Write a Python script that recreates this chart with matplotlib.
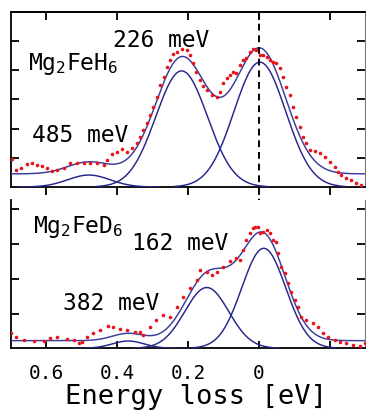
import numpy as np
import matplotlib
matplotlib.use('Agg')
import matplotlib.pyplot as plt
from matplotlib.transforms import blended_transform_factory

# ---------------- data ----------------
# Mg2FeH6 measured spectrum
h_energy = [0.697, 0.687, 0.673, 0.654, 0.640, 0.626, 0.612, 0.598, 0.584, 0.570,
            0.551, 0.532, 0.514, 0.495, 0.476, 0.457, 0.438, 0.429, 0.415, 0.401,
            0.387, 0.373, 0.359, 0.345, 0.335, 0.326, 0.316, 0.307, 0.298, 0.288,
            0.279, 0.269, 0.260, 0.251, 0.241, 0.232, 0.218, 0.204, 0.194, 0.185,
            0.176, 0.166, 0.157, 0.147, 0.133, 0.119, 0.110, 0.100, 0.091, 0.082,
            0.072, 0.063, 0.054, 0.044, 0.035, 0.025, 0.016, 0.007, -0.003, -0.012,
            -0.022, -0.031, -0.040, -0.050, -0.059, -0.069, -0.078, -0.087, -0.097, -0.106,
            -0.115, -0.125, -0.134, -0.144, -0.158, -0.172, -0.186, -0.200, -0.214, -0.223,
            -0.233, -0.247, -0.261, -0.275, -0.289]
h_intensity = [0.95, 0.58, 0.64, 0.79, 0.83, 0.75, 0.72, 0.64, 0.56, 0.58,
               0.64, 0.81, 0.83, 0.81, 0.83, 0.81, 0.75, 0.93, 1.13, 1.21,
               1.29, 1.21, 1.33, 1.50, 1.70, 1.95, 2.18, 2.47, 2.75, 3.10,
               3.50, 3.78, 4.13, 4.35, 4.56, 4.64, 4.72, 4.70, 4.53, 4.24,
               3.95, 3.67, 3.46, 3.33, 3.15, 3.10, 3.27, 3.55, 3.73, 3.84,
               3.95, 3.90, 4.18, 4.35, 4.41, 4.64, 4.72, 4.70, 4.53, 4.53,
               4.47, 4.35, 4.30, 4.24, 4.07, 3.78, 3.44, 3.15, 2.75, 2.41,
               2.07, 1.73, 1.50, 1.27, 1.25, 1.15, 1.04, 0.87, 0.70, 0.53,
               0.41, 0.30, 0.24, 0.15, 0.07]

# Mg2FeD6 measured spectrum
d_energy = [0.701, 0.687, 0.664, 0.636, 0.608, 0.589, 0.570, 0.542, 0.523, 0.509,
            0.500, 0.485, 0.467, 0.448, 0.425, 0.411, 0.392, 0.373, 0.349, 0.335,
            0.326, 0.307, 0.289, 0.270, 0.251, 0.232, 0.213, 0.194, 0.175, 0.166,
            0.147, 0.133, 0.119, 0.101, 0.082, 0.063, 0.054, 0.044, 0.035, 0.025,
            0.016, 0.011, 0.002, -0.003, -0.012, -0.022, -0.031, -0.040, -0.050, -0.054,
            -0.064, -0.073, -0.083, -0.092, -0.101, -0.111, -0.120, -0.134, -0.153, -0.167,
            -0.181, -0.195, -0.214, -0.228, -0.247, -0.265, -0.285, -0.299]
d_intensity = [0.43, 0.33, 0.24, 0.22, 0.22, 0.29, 0.33, 0.26, 0.24, 0.16,
               0.19, 0.32, 0.43, 0.53, 0.64, 0.61, 0.55, 0.53, 0.48, 0.48,
               0.38, 0.62, 0.82, 0.96, 0.91, 1.20, 1.49, 1.73, 1.97, 2.26,
               2.21, 2.11, 2.21, 2.35, 2.50, 2.59, 2.54, 2.83, 3.12, 3.31,
               3.46, 3.50, 3.50, 3.31, 3.36, 3.41, 3.31, 3.12, 3.07, 2.74,
               2.35, 2.16, 1.87, 1.63, 1.39, 1.20, 0.91, 0.82, 0.72, 0.62,
               0.43, 0.33, 0.24, 0.19, 0.14, 0.10, 0.07, 0.14]

# Gaussian fit components: centre [eV], height, width sigma [eV]
h_fit_center = [-0.003, 0.218, 0.480]
h_fit_height = [4.28, 3.98, 0.41]
h_fit_sigma = [0.073, 0.073, 0.060]
h_fit_background = 0.45

d_fit_center = [-0.014, 0.147, 0.369]
d_fit_height = [2.88, 1.75, 0.21]
d_fit_sigma = [0.062, 0.062, 0.045]
d_fit_background = 0.22
d_fit_unresolved = [0.06, 0.30, 0.07]   # centre, height, sigma (only in total)

x_ticks = [0.6, 0.4, 0.2, 0.0, -0.2]
x_tick_labels = ['0.6', '0.4', '0.2', '0', '']
h_y_ticks = [1, 2, 3, 4, 5]
d_y_ticks = [1, 2, 3, 4]

h_labels = ['226 meV', '485 meV']
d_labels = ['162 meV', '382 meV']

# ---------------- style ----------------
MONO = 'DejaVu Sans Mono'
plt.rcParams['font.family'] = [MONO]
plt.rcParams['mathtext.fontset'] = 'custom'
plt.rcParams['mathtext.rm'] = MONO
plt.rcParams['mathtext.it'] = MONO

COMP = '#25258c'
TOTAL = '#3b3b9c'
RED = '#e8141c'

W, H = 366, 420
fig = plt.figure(figsize=(W / 100, H / 100), dpi=100)


def rect(left, top, right, bottom):
    return [left / W, 1 - bottom / H, (right - left) / W, (bottom - top) / H]


ax1 = fig.add_axes(rect(11, 12, 365, 187))
ax2 = fig.add_axes(rect(11, 200, 365, 348.3))


def gauss(x, c, a, s):
    return a * np.exp(-(x - c) ** 2 / (2 * s ** 2))


def draw_panel(ax, energy, inten, centers, heights, sigmas, bg, extra, ymax):
    xs = np.linspace(0.72, -0.32, 600)
    total = np.full_like(xs, bg)
    for c, a, s in zip(centers, heights, sigmas):
        total += gauss(xs, c, a, s)
        xc = np.linspace(c + 3.3 * s, c - 3.3 * s, 200)
        ax.plot(xc, gauss(xc, c, a, s), color=COMP, lw=1.05, zorder=3)
    if extra is not None:
        total += gauss(xs, *extra)
    ax.plot(xs, total, color=TOTAL, lw=1.05, zorder=3)
    ax.plot(energy, inten, 'o', ms=2.6, mec='none', mfc=RED, zorder=4)
    ax.set_xlim(0.7, -0.3)
    ax.set_ylim(0, ymax)
    for side in ['left', 'bottom', 'top']:
        ax.spines[side].set_linewidth(1.3)
    ax.spines['right'].set_linewidth(0.8)
    ax.spines['right'].set_color('#777777')


draw_panel(ax1, h_energy, h_intensity, h_fit_center, h_fit_height, h_fit_sigma,
           h_fit_background, None, 6.0)
draw_panel(ax2, d_energy, d_intensity, d_fit_center, d_fit_height, d_fit_sigma,
           d_fit_background, d_fit_unresolved, 4.27)

# ticks, top panel
ax1.set_xticks(x_ticks)
ax1.set_xticklabels([])
ax1.tick_params(axis='x', direction='out', length=6, width=1.3, bottom=True, top=False)
sec = ax1.secondary_xaxis('top')
sec.set_xticks(x_ticks)
sec.set_xticklabels([])
sec.tick_params(axis='x', direction='in', length=6, width=1.3)
sec.spines['top'].set_linewidth(1.3)
ax1.set_yticks(h_y_ticks)
ax1.set_yticklabels([])
ax1.tick_params(axis='y', direction='in', length=6, width=1.3, left=True, right=True)

# ticks, bottom panel
ax2.spines['top'].set_visible(False)
ax2.set_xticks(x_ticks)
ax2.set_xticklabels(x_tick_labels, fontsize=14, family=MONO)
ax2.tick_params(axis='x', direction='in', length=5, width=1.3, pad=11, top=False)
ax2.set_yticks(d_y_ticks)
ax2.set_yticklabels([])
ax2.tick_params(axis='y', direction='in', length=6, width=1.3, left=True, right=True)
ax2.set_xlabel('Energy loss [eV]', fontsize=19.5, family=MONO)
ax2.xaxis.set_label_coords((196 - 11) / 354, -0.24)

# dashed line at zero energy through both panels
tr = blended_transform_factory(ax1.transData, fig.transFigure)
ax1.plot([0, 0], [1 - 12 / H, 1 - 348.3 / H], transform=tr, color='black',
         lw=1.4, ls=(0, (3.5, 2.5)), clip_on=False, zorder=5)

# annotations
ax1.text(0.048, 0.669, r'Mg$_2$FeH$_6$', transform=ax1.transAxes, fontsize=16.5,
         ha='left', va='baseline')
ax1.text(0.288, 0.80, h_labels[0], transform=ax1.transAxes, fontsize=16.5,
         ha='left', va='baseline')
ax1.text(0.059, 0.257, h_labels[1], transform=ax1.transAxes, fontsize=16.5,
         ha='left', va='baseline')
ax2.text(0.062, 0.775, r'Mg$_2$FeD$_6$', transform=ax2.transAxes, fontsize=16.5,
         ha='left', va='baseline')
ax2.text(0.342, 0.663, d_labels[0], transform=ax2.transAxes, fontsize=16.5,
         ha='left', va='baseline')
ax2.text(0.147, 0.258, d_labels[1], transform=ax2.transAxes, fontsize=16.5,
         ha='left', va='baseline')

fig.savefig('out.png', dpi=100)
